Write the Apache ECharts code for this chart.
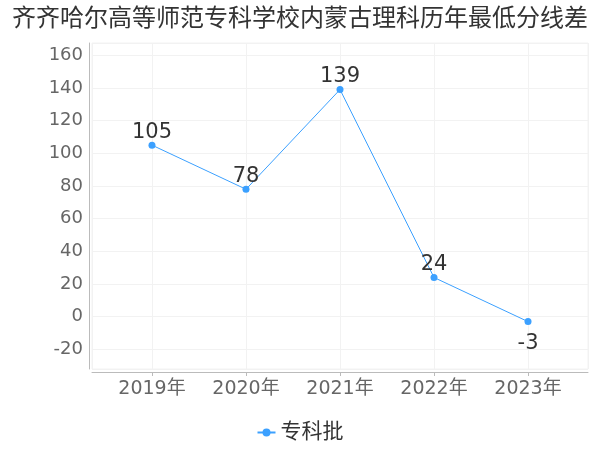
<!DOCTYPE html>
<html><head><meta charset="utf-8">
<script src="https://cdn.jsdelivr.net/npm/echarts@6/dist/echarts.min.js"></script>
<style>html,body{margin:0;padding:0;background:#fff}#c{width:600px;height:450px}</style>
</head><body><div id="c"></div>
<script>
var years = [2019, 2020, 2021, 2022, 2023];
var values = [105, 78, 139, 24, -3];
var seriesName = '专科批';
var titleText = '齐齐哈尔高等师范专科学校内蒙古理科历年最低分线差';

var chart = echarts.init(document.getElementById('c'));
var font = '"DejaVu Sans", "Noto Sans CJK SC", sans-serif';
chart.setOption({
  animation: false,
  title: {text: titleText, left: 'center', top: 3,
    textStyle: {fontSize: 24, fontWeight: 'normal', color: '#333', fontFamily: font}},
  legend: {data: [seriesName], bottom: 2, left: 'center', itemWidth: 18, itemHeight: 10,
    textStyle: {fontSize: 21, color: '#333', fontFamily: font}},
  grid: {left: 92, right: 12, top: 43, bottom: 81, show: true, borderColor: '#f2f2f2', borderWidth: 1},
  xAxis: {type: 'value', min: 2018.362, max: 2023.638, offset: 3,
    axisLine: {onZero: false, lineStyle: {color: '#bbb'}},
    axisTick: {show: true, length: 4, lineStyle: {color: '#bbb'}},
    splitLine: {show: true, lineStyle: {color: '#f2f2f2'}},
    axisLabel: {showMinLabel: false, showMaxLabel: false, fontSize: 19, color: '#666', fontFamily: font, margin: 8,
      formatter: function (v) { return Number.isInteger(v) ? v + '年' : ''; }}},
  yAxis: {type: 'value', min: -32, max: 167.5, splitNumber: 10, offset: 3,
    axisLine: {show: true, onZero: false, lineStyle: {color: '#bbb'}},
    axisTick: {show: false},
    splitLine: {show: true, lineStyle: {color: '#f2f2f2'}},
    axisLabel: {showMinLabel: false, showMaxLabel: false, fontSize: 18, color: '#666', fontFamily: font, margin: 6}},
  series: [{
    name: seriesName, type: 'line',
    data: years.map(function (y, i) {
      var d = {value: [y, values[i]]};
      if (values[i] < 0) d.label = {position: 'bottom', distance: 8};
      return d;
    }),
    symbol: 'circle', symbolSize: 7,
    itemStyle: {color: '#3ba0ff'},
    lineStyle: {color: '#3ba0ff', width: 1},
    label: {show: true, fontSize: 21, color: '#333', fontFamily: font,
      position: 'top', distance: -1,
      formatter: function (p) { return p.value[1]; }}
  }]
});
</script></body></html>
